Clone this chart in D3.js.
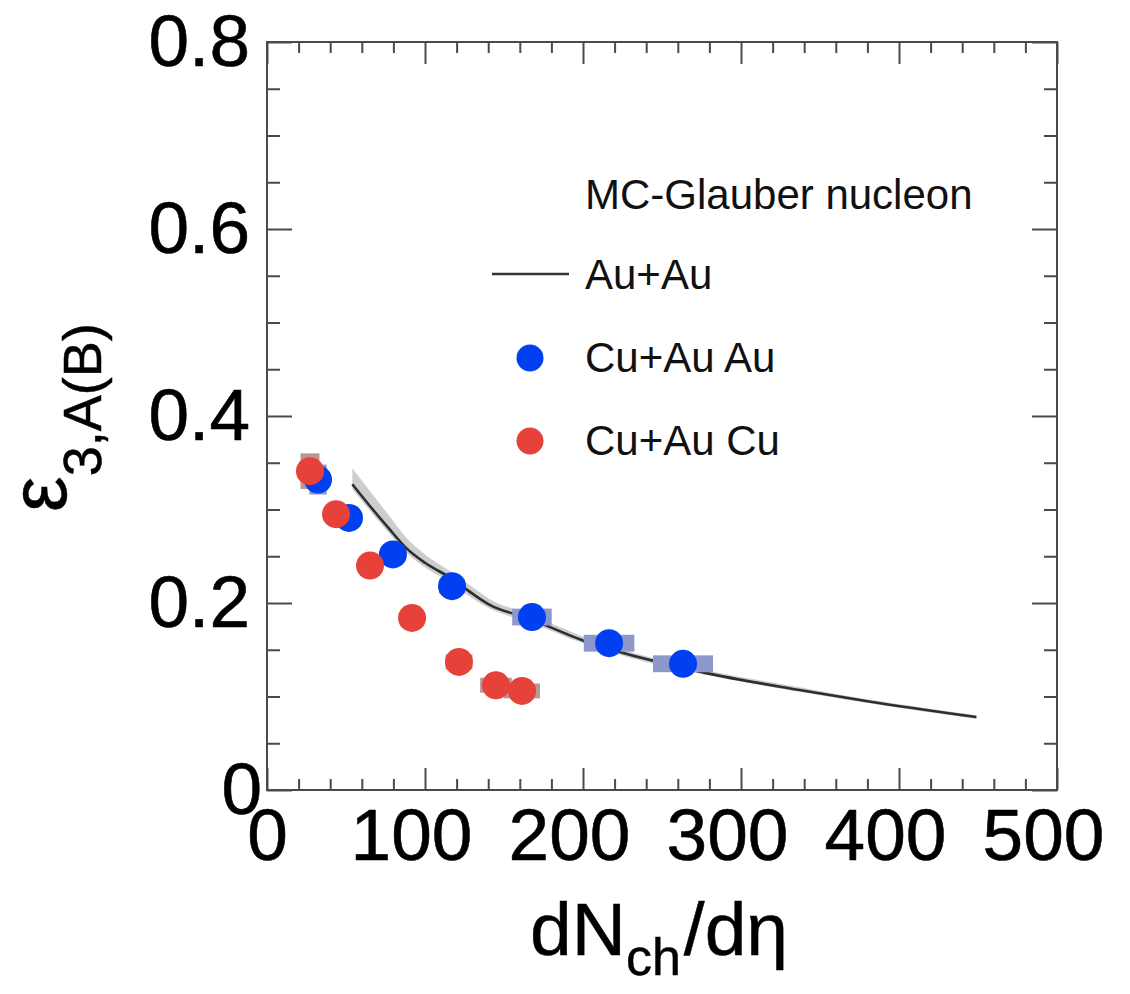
<!DOCTYPE html>
<html><head><meta charset="utf-8">
<script src="https://cdn.jsdelivr.net/npm/d3@7"></script>
<style>body{margin:0;background:#fff}svg{display:block;font-family:"Liberation Sans",Arial,sans-serif}</style>
</head><body>
<script>
// ---- data ----
const xTicks = [0, 100, 200, 300, 400, 500];
const xTickLabels = ["0", "100", "200", "300", "400", "500"];
const xMinorTicks = [20,40,60,80,120,140,160,180,220,240,260,280,320,340,360,380,420,440,460,480];
const yTicks = [0, 0.2, 0.4, 0.6, 0.8];
const yTickLabels = ["0", "0.2", "0.4", "0.6", "0.8"];
const yMinorTicks = [0.05,0.1,0.15,0.25,0.3,0.35,0.45,0.5,0.55,0.65,0.7,0.75];

// MC-Glauber nucleon Au+Au curve and band
const curveX  = [54, 65, 77, 88, 100, 116, 130, 141, 165, 200, 240, 278, 337, 380, 449];
const curveY  = [0.327, 0.304, 0.280, 0.259, 0.243, 0.227, 0.210, 0.198, 0.184, 0.160, 0.140, 0.125, 0.107, 0.095, 0.078];
const bandHi  = [0.344, 0.320, 0.294, 0.270, 0.252, 0.234, 0.217, 0.204, 0.189, 0.164, 0.143, 0.128, 0.110, 0.097, 0.080];
const bandLo  = [0.322, 0.299, 0.275, 0.254, 0.238, 0.222, 0.205, 0.194, 0.180, 0.157, 0.137, 0.123, 0.105, 0.093, 0.076];

// Cu+Au, Au nucleus
const auX  = [32.3, 51.9, 79.7, 117.1, 167.7, 216.5, 263.3];
const auY  = [0.332, 0.291, 0.252, 0.218, 0.185, 0.157, 0.135];
const auDX = [5.5, 5, 6, 8, 12.5, 16, 19];
const auDY = [0.016, 0.008, 0.008, 0.008, 0.009, 0.009, 0.009];

// Cu+Au, Cu nucleus
const cuX  = [27.2, 43.7, 65.2, 91.8, 121.5, 144.9, 161.4];
const cuY  = [0.341, 0.295, 0.240, 0.184, 0.137, 0.112, 0.106];
const cuDX = [6, 4, 5, 6.5, 8.5, 10, 11.4];
const cuDY = [0.019, 0.008, 0.008, 0.008, 0.008, 0.008, 0.008];

const legendTitle = "MC-Glauber nucleon";
const legendNames = ["Au+Au", "Cu+Au Au", "Cu+Au Cu"];

// ---- drawing ----
const W = 1130, H = 994;
const svg = d3.select("body").append("svg").attr("width", W).attr("height", H);
const x = d3.scaleLinear().domain([0, 500]).range([267, 1057]);
const y = d3.scaleLinear().domain([0, 0.8]).range([790, 42]);
const axisCol = "#4a4a4a";
const blue = "#0040f0", red = "#e6423a";
const FONT = '"Liberation Sans",Arial,sans-serif';

// band + curve
const bandData = curveX.map((v, i) => ({x: v, lo: bandLo[i], hi: bandHi[i]}));
svg.append("path").datum(bandData)
  .attr("d", d3.area().x(d => x(d.x)).y0(d => y(d.lo)).y1(d => y(d.hi)).curve(d3.curveMonotoneX))
  .attr("fill", "#c8c8c8").attr("opacity", 0.9);
const curveData = curveX.map((v, i) => ({x: v, y: curveY[i]}));
svg.append("path").datum(curveData)
  .attr("d", d3.line().x(d => x(d.x)).y(d => y(d.y)).curve(d3.curveMonotoneX))
  .attr("fill", "none").attr("stroke", "#2e2e2e").attr("stroke-width", 2.6);

// systematic boxes
function boxes(xs, ys, dxs, dys, col) {
  svg.append("g").selectAll("rect").data(xs.map((v, i) => i)).join("rect")
    .attr("x", i => x(xs[i] - dxs[i])).attr("width", i => x(xs[i] + dxs[i]) - x(xs[i] - dxs[i]))
    .attr("y", i => y(ys[i] + dys[i])).attr("height", i => y(ys[i] - dys[i]) - y(ys[i] + dys[i]))
    .attr("fill", col);
}
boxes(auX, auY, auDX, auDY, "#8e97c9");
boxes(cuX, cuY, cuDX, cuDY, "#b89797");

// points (blue first, red on top)
svg.append("g").selectAll("circle").data(auX.map((v, i) => i)).join("circle")
  .attr("cx", i => x(auX[i])).attr("cy", i => y(auY[i])).attr("r", 14).attr("fill", blue);
svg.append("g").selectAll("circle").data(cuX.map((v, i) => i)).join("circle")
  .attr("cx", i => x(cuX[i])).attr("cy", i => y(cuY[i])).attr("r", 14).attr("fill", red);

// frame
svg.append("rect").attr("x", 267).attr("y", 42).attr("width", 790).attr("height", 748)
  .attr("fill", "none").attr("stroke", axisCol).attr("stroke-width", 2);

function styleAxis(g) {
  g.select(".domain").remove();
  g.selectAll(".tick line").attr("stroke", axisCol).attr("stroke-width", 2);
}
function styleLabels(g) {
  g.selectAll(".tick text").attr("font-size", 73).attr("fill", "#000").attr("font-family", FONT)
    .attr("stroke", "#000").attr("stroke-width", 0.6);
}
// bottom axis with labels
const gxb = svg.append("g").attr("transform", "translate(0,790)")
  .call(d3.axisBottom(x).tickValues(xTicks).tickFormat((d, i) => xTickLabels[i]).tickSizeInner(-22).tickSizeOuter(0).tickPadding(18));
styleAxis(gxb); styleLabels(gxb);
gxb.selectAll(".tick text").attr("dx", d => d === 0 ? 0 : -14);
svg.append("g").attr("transform", "translate(0,790)")
  .call(d3.axisBottom(x).tickValues(xMinorTicks).tickFormat("").tickSizeInner(-11).tickSizeOuter(0)).call(styleAxis);
// top axis
svg.append("g").attr("transform", "translate(0,42)")
  .call(d3.axisTop(x).tickValues(xTicks).tickFormat("").tickSizeInner(-22).tickSizeOuter(0)).call(styleAxis);
svg.append("g").attr("transform", "translate(0,42)")
  .call(d3.axisTop(x).tickValues(xMinorTicks).tickFormat("").tickSizeInner(-11).tickSizeOuter(0)).call(styleAxis);
// left axis with labels
const gyl = svg.append("g").attr("transform", "translate(267,0)")
  .call(d3.axisLeft(y).tickValues(yTicks).tickFormat((d, i) => yTickLabels[i]).tickSizeInner(-25).tickSizeOuter(0).tickPadding(17));
styleAxis(gyl); styleLabels(gyl);
gyl.selectAll(".tick text").attr("dx", d => d === 0 ? 12 : 0);
svg.append("g").attr("transform", "translate(267,0)")
  .call(d3.axisLeft(y).tickValues(yMinorTicks).tickFormat("").tickSizeInner(-13).tickSizeOuter(0)).call(styleAxis);
// right axis
svg.append("g").attr("transform", "translate(1057,0)")
  .call(d3.axisRight(y).tickValues(yTicks).tickFormat("").tickSizeInner(-25).tickSizeOuter(0)).call(styleAxis);
svg.append("g").attr("transform", "translate(1057,0)")
  .call(d3.axisRight(y).tickValues(yMinorTicks).tickFormat("").tickSizeInner(-13).tickSizeOuter(0)).call(styleAxis);

// axis titles
const xt = svg.append("text").attr("x", 530).attr("y", 955).attr("font-size", 75).attr("fill", "#000")
  .attr("stroke", "#000").attr("stroke-width", 0.5);
xt.append("tspan").text("dN");
xt.append("tspan").attr("font-size", 52).attr("dy", 20).text("ch");
xt.append("tspan").attr("dy", -20).attr("dx", 3).text("/d\u03b7");

const yt = svg.append("text").attr("transform", "translate(66,512) rotate(-90)").attr("fill", "#000")
  .attr("stroke", "#000").attr("stroke-width", 0.5);
yt.append("tspan").attr("font-size", 80).text("\u03b5");
yt.append("tspan").attr("font-size", 54).attr("dy", 35).text("3,A(B)");

// legend
const lg = svg.append("g").attr("font-size", 42).attr("fill", "#111");
lg.append("text").attr("x", 585).attr("y", 209).text(legendTitle);
lg.append("line").attr("x1", 492).attr("x2", 569).attr("y1", 274).attr("y2", 274).attr("stroke", "#333").attr("stroke-width", 2.5);
lg.append("text").attr("x", 585).attr("y", 289).text(legendNames[0]);
lg.append("circle").attr("cx", 530).attr("cy", 358).attr("r", 13.5).attr("fill", blue);
lg.append("text").attr("x", 585).attr("y", 372).text(legendNames[1]);
lg.append("circle").attr("cx", 530).attr("cy", 441).attr("r", 13.5).attr("fill", red);
lg.append("text").attr("x", 585).attr("y", 455).text(legendNames[2]);
</script>
</body></html>
